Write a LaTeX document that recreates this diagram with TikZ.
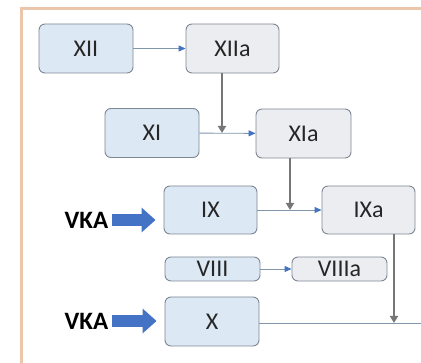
\documentclass[tikz,border=0pt]{standalone}
\usepackage{fontspec}
\setmainfont{Carlito}
\usetikzlibrary{arrows.meta}
\definecolor{bluefill}{HTML}{DDE8F5}
\definecolor{grayfill}{HTML}{ECEDF0}
\definecolor{boxline}{HTML}{7D8794}
\definecolor{thinline}{HTML}{8196AB}
\definecolor{tipblue}{HTML}{4472C4}
\definecolor{thickgray}{HTML}{767676}
\definecolor{frametan}{HTML}{EBC6AA}
\tikzset{
  box/.style={draw=boxline, line width=0.9pt, rounded corners=6pt, minimum width=94pt, minimum height=49pt, inner sep=0pt, font=\fontsize{24}{24}\selectfont, text=black!85},
  bbox/.style={box, fill=bluefill},
  gbox/.style={box, fill=grayfill},
  slim/.style={minimum height=24pt},
  thinarrow/.style={draw=thinline, line width=0.9pt, -{Triangle[length=7pt,width=6pt,color=tipblue,fill=tipblue]}},
  thickarrow/.style={draw=thickgray, line width=2.2pt, -{Triangle[length=7pt,width=8pt]}},
  vka/.style={font=\fontsize{25}{25}\selectfont\bfseries, text=black, inner sep=0pt},
  vkaarrow/.style={draw=tipblue, line width=12pt, -{Triangle[length=14pt,width=24pt]}, shorten <=3pt, shorten >=8pt}
}
\begin{document}
\begin{tikzpicture}[x=1pt,y=-1pt]
\useasboundingbox (0,0) rectangle (421,363);
\draw[frametan, line width=3pt] (423,9) -| (21,365);
\node[bbox] (XII) at (86,48.5) {XII};
\node[gbox, minimum width=93pt] (XIIa) at (232.5,48.5) {XIIa};
\node[bbox] (XI) at (152,133) {XI};
\node[gbox, minimum width=95pt] (XIa) at (303.5,133.5) {XIa};
\node[bbox, minimum width=93pt, minimum height=48pt] (IX) at (210.5,210) {IX};
\node[gbox, minimum width=93pt, minimum height=48pt] (IXa) at (368.5,210) {IXa};
\node[bbox, slim, minimum width=95pt] (VIII) at (212.5,269) {VIII};
\node[gbox, slim, minimum width=95pt] (VIIIa) at (339.5,269) {VIIIa};
\node[bbox] (X) at (212,321.5) {X};
\node[vka] (vka1) at (86.5,220) {VKA};
\node[vka] (vka2) at (86.5,321) {VKA};
\coordinate (j1) at (222,133);
\coordinate (j2) at (290,210);
\coordinate (j3) at (394,323);
\coordinate (xend) at (423,323);
\draw[thinarrow] (XII) -- (XIIa);
\draw[thinarrow] (XI) -- (XIa);
\draw[thinarrow] (IX) -- (IXa);
\draw[thinarrow] (VIII) -- (VIIIa);
\draw[draw=thinline, line width=0.9pt] (X.east |- xend) -- (xend);
\draw[thickarrow] (XIIa.south -| j1) -- (j1);
\draw[thickarrow] (XIa.south -| j2) -- (j2);
\draw[thickarrow] (IXa.south -| j3) -- (j3);
\draw[vkaarrow] (vka1.east) -- (IX.west |- vka1.east);
\draw[vkaarrow] (vka2.east) -- (X.west |- vka2.east);
\end{tikzpicture}
\end{document}
